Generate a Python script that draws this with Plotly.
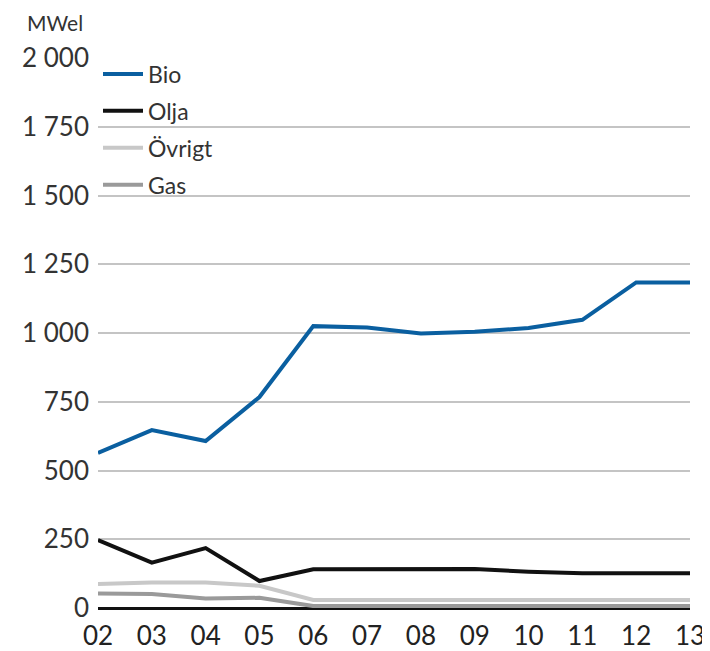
import plotly.graph_objects as go

years = ["02", "03", "04", "05", "06", "07", "08", "09", "10", "11", "12", "13"]
bio = [564, 647, 607, 767, 1025, 1020, 998, 1005, 1018, 1048, 1184, 1184]
olja = [247, 165, 218, 98, 141, 142, 142, 142, 132, 126, 126, 126]
ovrigt = [87, 93, 93, 81, 29, 29, 29, 29, 29, 29, 29, 29]
gas = [53, 51, 35, 37, 7, 7, 7, 7, 7, 7, 7, 7]

y_ticks = [0, 250, 500, 750, 1000, 1250, 1500, 1750, 2000]
y_labels = ["0", "250", "500", "750", "1 000", "1 250", "1 500", "1 750", "2 000"]

series = [
    ("Bio", bio, "#0a5fa0"),
    ("Olja", olja, "#111111"),
    ("Övrigt", ovrigt, "#c8c8c8"),
    ("Gas", gas, "#9a9a9a"),
]

fig = go.Figure()
for name, vals, col in series:
    fig.add_trace(go.Scatter(x=years, y=vals, name=name, mode="lines",
                             line=dict(color=col, width=4), legendgroup=name))

# page body has an 8px margin, so the figure is a bit smaller than the window
fig.update_layout(
    width=702, height=643,
    margin=dict(l=90, r=20, t=50, b=43),
    paper_bgcolor="white", plot_bgcolor="white",
    font=dict(family="Lato", size=26, color="#333333"),
    showlegend=True,
    legend=dict(x=0, y=1.01, xanchor="left", yanchor="top", bgcolor="rgba(0,0,0,0)",
                font=dict(size=23, color="#333333"), itemwidth=40, tracegroupgap=4),
    annotations=[dict(text="MWel", x=-0.073, y=1.065, xref="paper", yref="paper",
                      xanchor="center", yanchor="middle", showarrow=False,
                      font=dict(size=21, color="#333333"))],
)
fig.update_xaxes(type="category", range=[0, 11], showgrid=False, showline=False,
                 ticks="", automargin=False, ticklabelstandoff=10,
                 tickfont=dict(size=26, color="#222222"))
fig.update_yaxes(range=[0, 2000], tickvals=y_ticks, ticktext=y_labels,
                 showgrid=True, gridcolor="#c4c4c4", gridwidth=1.5,
                 zeroline=True, zerolinecolor="#111111", zerolinewidth=3,
                 ticks="", ticklabelstandoff=8, automargin=False,
                 tickfont=dict(size=26, color="#333333"))

fig.write_html("out.html")
